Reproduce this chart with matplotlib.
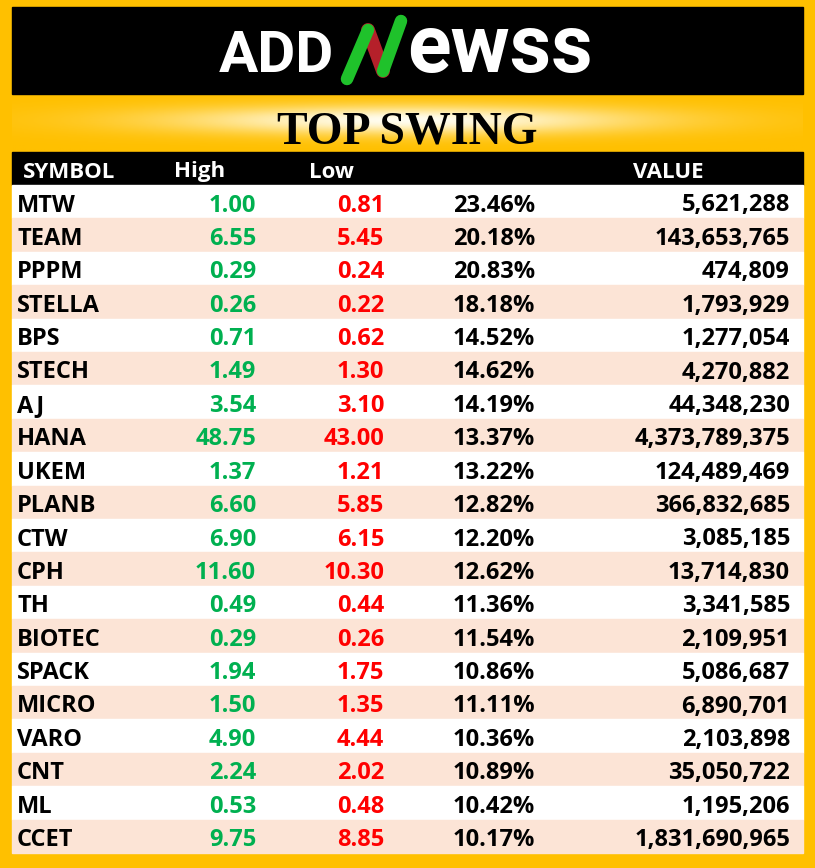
import matplotlib
matplotlib.use("Agg")
import matplotlib.pyplot as plt
import numpy as np
from matplotlib.colors import LinearSegmentedColormap

# table data
symbols = ["MTW", "TEAM", "PPPM", "STELLA", "BPS", "STECH", "AJ", "HANA", "UKEM", "PLANB",
           "CTW", "CPH", "TH", "BIOTEC", "SPACK", "MICRO", "VARO", "CNT", "ML", "CCET"]
high = ["1.00", "6.55", "0.29", "0.26", "0.71", "1.49", "3.54", "48.75", "1.37", "6.60",
        "6.90", "11.60", "0.49", "0.29", "1.94", "1.50", "4.90", "2.24", "0.53", "9.75"]
low = ["0.81", "5.45", "0.24", "0.22", "0.62", "1.30", "3.10", "43.00", "1.21", "5.85",
       "6.15", "10.30", "0.44", "0.26", "1.75", "1.35", "4.44", "2.02", "0.48", "8.85"]
swing = ["23.46%", "20.18%", "20.83%", "18.18%", "14.52%", "14.62%", "14.19%", "13.37%", "13.22%", "12.82%",
         "12.20%", "12.62%", "11.36%", "11.54%", "10.86%", "11.11%", "10.36%", "10.89%", "10.42%", "10.17%"]
value = [5621288, 143653765, 474809, 1793929, 1277054, 4270882, 44348230, 4373789375, 124489469, 366832685,
         3085185, 13714830, 3341585, 2109951, 5086687, 6890701, 2103898, 35050722, 1195206, 1831690965]
headers = ["SYMBOL", "High", "Low", "VALUE"]

W, H = 815, 868
YELLOW = "#FFC000"
PINK = "#FCE4D6"
GREEN = "#00B050"
RED = "#FF0000"
FONT = "Open Sans"

fig = plt.figure(figsize=(W / 100, H / 100), dpi=100)
fig.patch.set_facecolor(YELLOW)
ax = fig.add_axes([0, 0, 1, 1])
ax.set_xlim(0, W)
ax.set_ylim(H, 0)
ax.axis("off")

# glow behind the title
gx = np.linspace(-1, 1, 400)
gy = np.linspace(-1, 1, 60)
X, Y = np.meshgrid(gx, gy)
glow = np.exp(-(X / 0.6) ** 2 - ((Y + 0.1) / 0.5) ** 2)
cmap = LinearSegmentedColormap.from_list("glow", [YELLOW, "#FFFDF0"])
ax.imshow(glow, cmap=cmap, extent=[12, 803, 152, 94], aspect="auto", zorder=0, vmin=0, vmax=1)

# logo box
ax.add_patch(plt.Rectangle((12, 7), 791, 87, color="black", zorder=1))
ax.text(219, 72, "ADD", color="white", fontsize=42, fontweight="bold", family="Roboto",
        ha="left", va="baseline", zorder=2)
ax.text(407, 72, "ewss", color="white", fontsize=58, fontweight="bold", family="Roboto",
        ha="left", va="baseline", zorder=2)
# stylised N of the logo
ax.plot([368, 383], [30, 71], color="#B5202A", lw=10, solid_capstyle="round", zorder=2)
ax.plot([347, 368], [79, 30], color="#1FC22B", lw=9, solid_capstyle="round", zorder=3)
ax.plot([383, 401], [71, 21], color="#1FC22B", lw=9, solid_capstyle="round", zorder=3)

# title
ax.text(407, 143, "TOP SWING", color="black", fontsize=33, fontweight="bold",
        family="Liberation Serif", ha="center", va="baseline", zorder=2)

# table header
left, right = 12, 803
head_top, head_bot = 152, 185
ax.add_patch(plt.Rectangle((left, head_top), right - left, head_bot - head_top, color="black", zorder=1))
head_x = [23, 174, 309, 633]
for hx, label in zip(head_x, headers):
    ax.text(hx, 177.5, label, color="white", fontsize=16, fontweight="bold", family=FONT,
            ha="left", va="baseline", zorder=2)

# rows
row_h = (853 - head_bot) / len(symbols)
for i in range(len(symbols)):
    top = head_bot + i * row_h
    ax.add_patch(plt.Rectangle((left, top), right - left, row_h,
                               color="white" if i % 2 == 0 else PINK, zorder=1))
    base = top + 26.5
    ax.text(17, base, symbols[i], color="black", fontsize=17, fontweight="bold", family=FONT,
            ha="left", va="baseline", zorder=2)
    ax.text(256, base, high[i], color=GREEN, fontsize=17, fontweight="bold", family=FONT,
            ha="right", va="baseline", zorder=2)
    ax.text(384, base, low[i], color=RED, fontsize=17, fontweight="bold", family=FONT,
            ha="right", va="baseline", zorder=2)
    ax.text(535, base, swing[i], color="black", fontsize=17, fontweight="bold", family=FONT,
            ha="right", va="baseline", zorder=2)
    ax.text(790, base, f"{value[i]:,}", color="black", fontsize=17, fontweight="bold", family=FONT,
            ha="right", va="baseline", zorder=2)

fig.savefig("out.png", dpi=100, facecolor=YELLOW)
